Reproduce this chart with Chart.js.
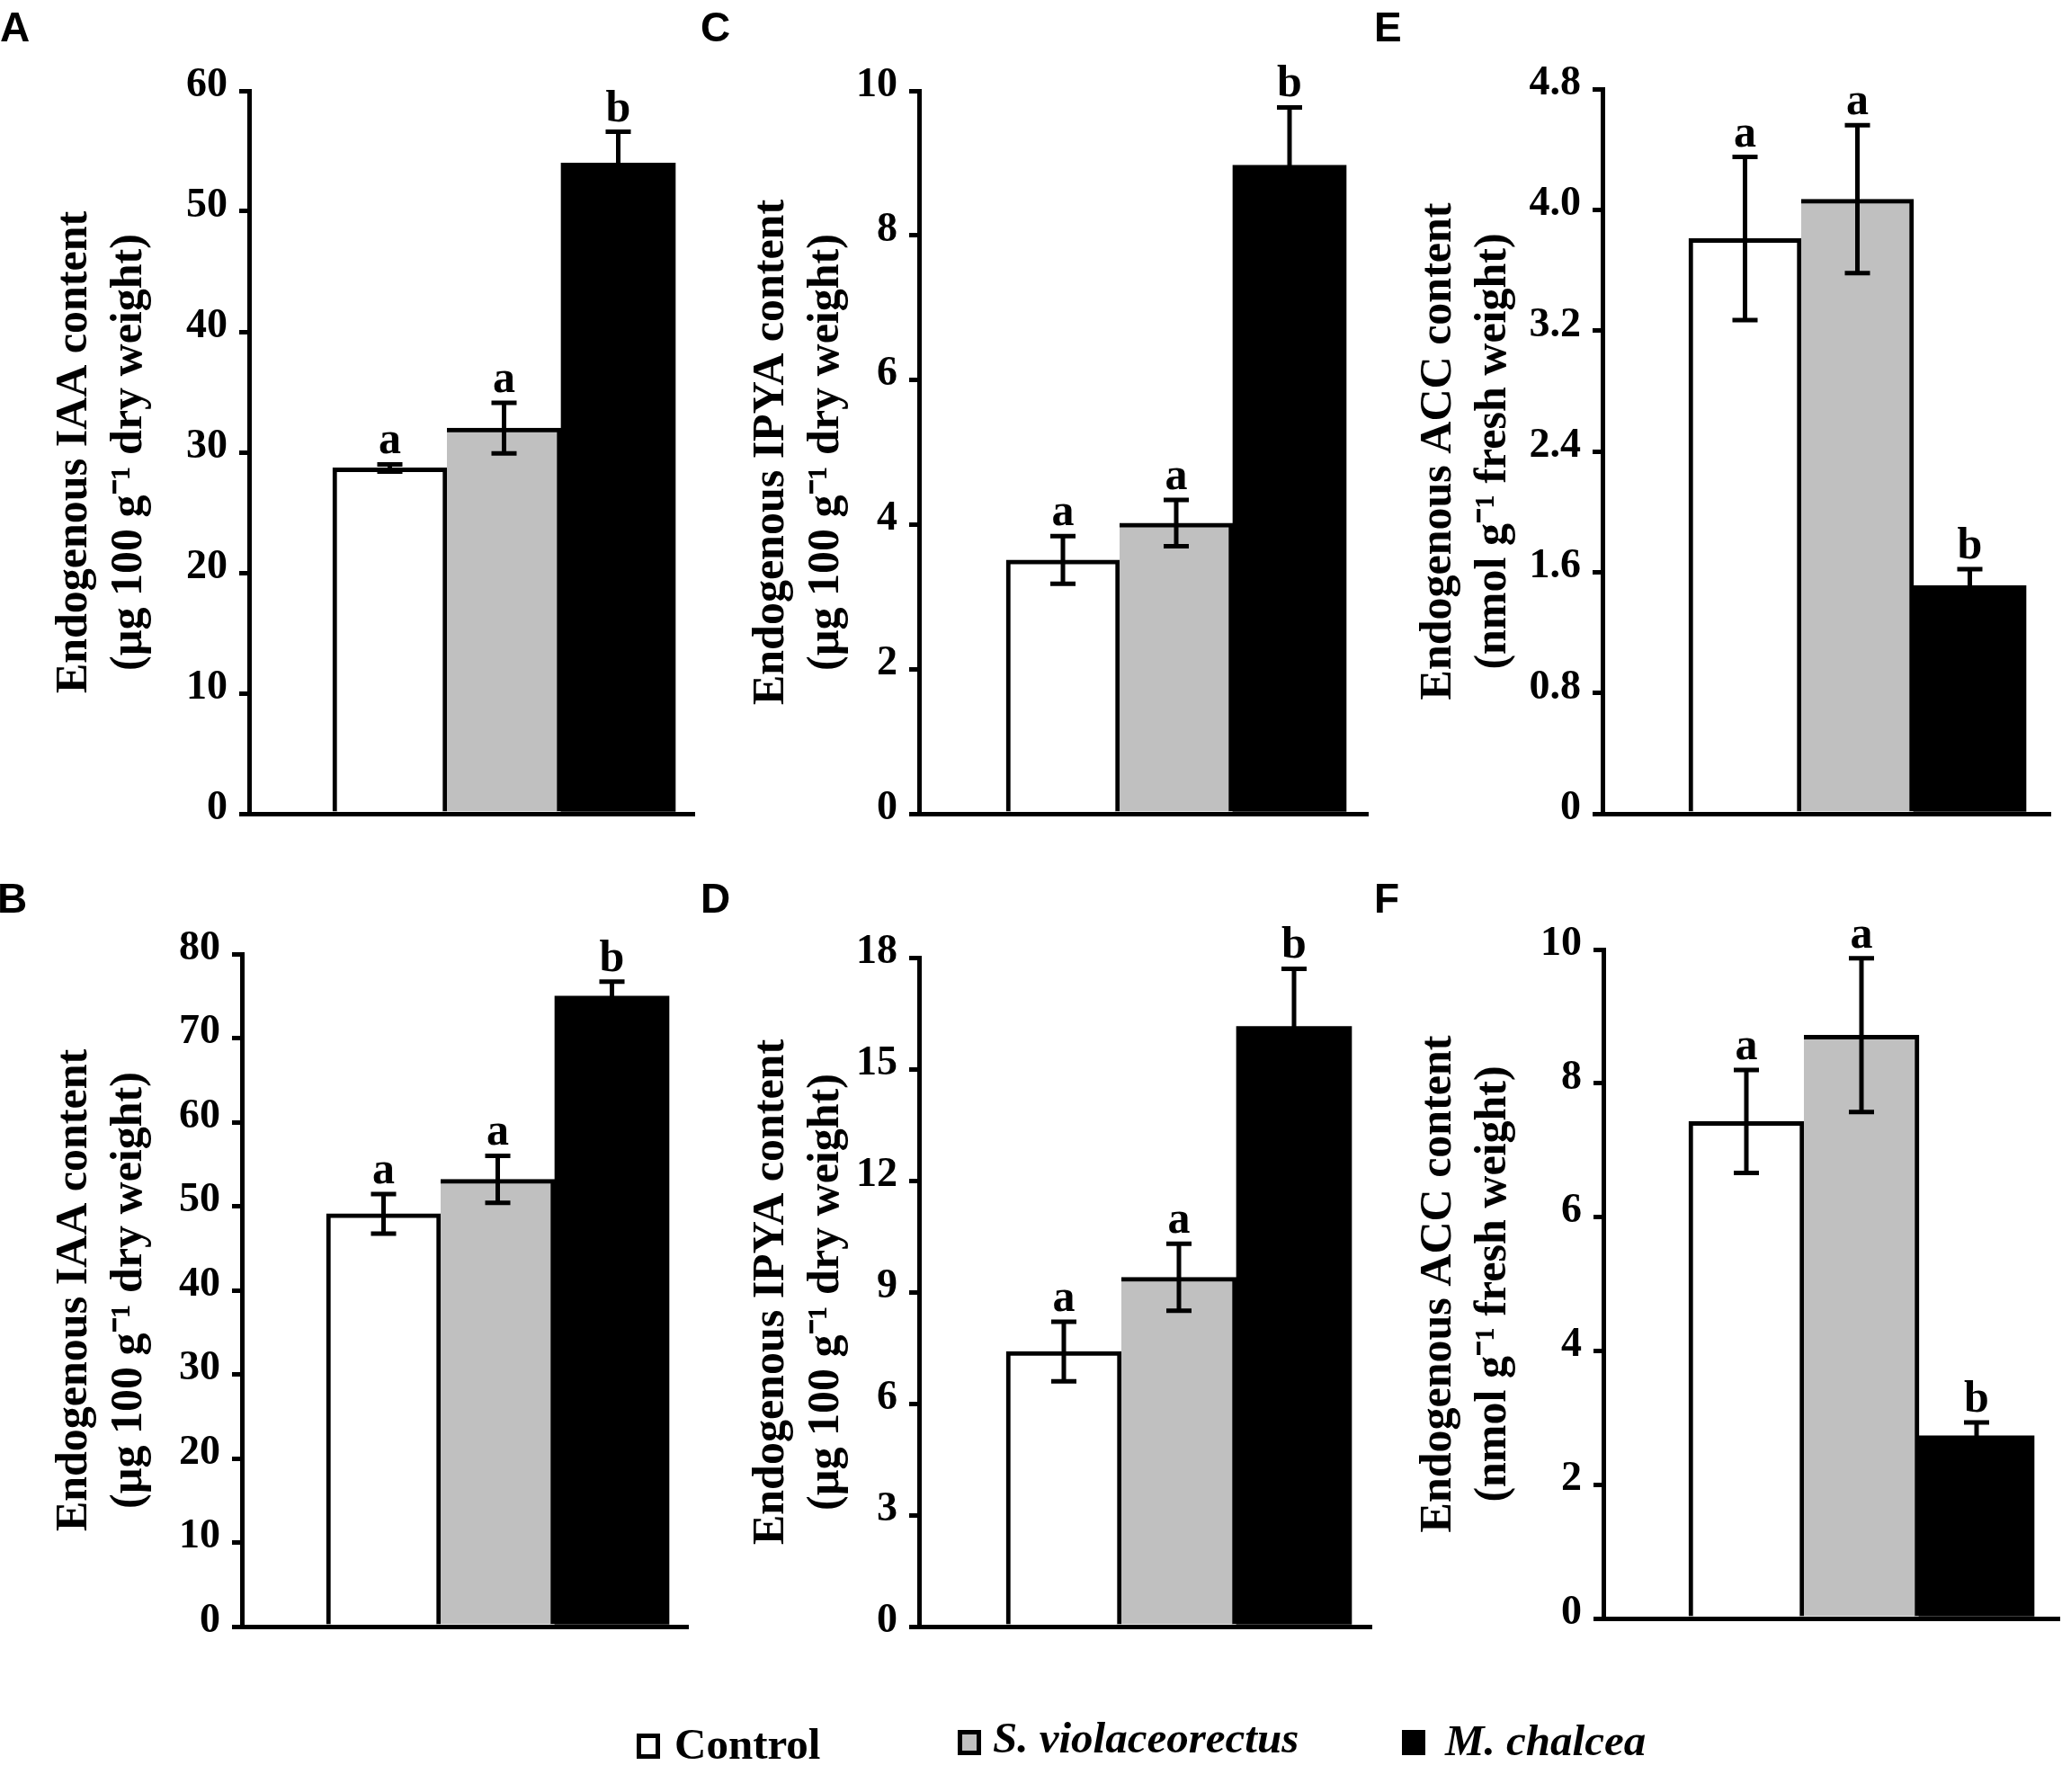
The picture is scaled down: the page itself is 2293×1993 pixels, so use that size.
<!DOCTYPE html>
<html><head><meta charset="utf-8">
<script src="https://cdn.jsdelivr.net/npm/chart.js@4.4.1/dist/chart.umd.min.js"></script>
<style>
html,body{margin:0;padding:0;background:#fff;overflow:hidden;}
#wrap{position:relative;width:2293px;height:1993px;overflow:hidden;background:#fff;}
canvas{position:absolute;left:0;top:0;}
.pl{position:absolute;font:bold 46px 'Liberation Sans',Arial,sans-serif;line-height:46px;color:#000;white-space:nowrap;}
.lbox{position:absolute;box-sizing:border-box;border:5px solid #000;width:26px;height:28px;}
.ltxt{position:absolute;font:bold 49px 'Liberation Serif','Times New Roman',serif;line-height:49px;color:#000;white-space:nowrap;}
</style></head><body>
<div id="wrap"></div>
<script>
// ---------- data ----------
const categories = ['Control', 'S. violaceorectus', 'M. chalcea'];
const barColors = ['#ffffff', '#c0c0c0', '#000000'];

const valuesA = [28.7, 32.0, 54.0];
const errorsA = [0.3, 2.1, 2.6];
const lettersA = ['a', 'a', 'b'];
const ticksA = ['0', '10', '20', '30', '40', '50', '60'];

const valuesB = [49.1, 53.2, 75.0];
const errorsB = [2.35, 2.8, 1.7];
const lettersB = ['a', 'a', 'b'];
const ticksB = ['0', '10', '20', '30', '40', '50', '60', '70', '80'];

const valuesC = [3.51, 4.02, 8.97];
const errorsC = [0.33, 0.32, 0.8];
const lettersC = ['a', 'a', 'b'];
const ticksC = ['0', '2', '4', '6', '8', '10'];

const valuesD = [7.4, 9.4, 16.15];
const errorsD = [0.8, 0.9, 1.55];
const lettersD = ['a', 'a', 'b'];
const ticksD = ['0', '3', '6', '9', '12', '15', '18'];

const valuesE = [3.81, 4.07, 1.51];
const errorsE = [0.54, 0.49, 0.11];
const lettersE = ['a', 'a', 'b'];
const ticksE = ['0', '0.8', '1.6', '2.4', '3.2', '4.0', '4.8'];

const valuesF = [7.43, 8.72, 2.73];
const errorsF = [0.77, 1.15, 0.2];
const lettersF = ['a', 'a', 'b'];
const ticksF = ['0', '2', '4', '6', '8', '10'];

const titleIAA = ['Endogenous IAA content', '(\u00b5g 100 g\u207b\u00b9 dry weight)'];
const titleIPYA = ['Endogenous IPYA content', '(\u00b5g 100 g\u207b\u00b9 dry weight)'];
const titleACC = ['Endogenous ACC content', '(nmol g\u207b\u00b9 fresh weight)'];

// ---------- layout (pixels) ----------
const W = 2293, H = 1993;
const SERIF = "'Liberation Serif', 'Times New Roman', serif";
const panels = [
  {id:'A', values:valuesA, errors:errorsA, letters:lettersA, ticks:ticksA, title:titleIAA,
   geo:{L:277, R:772, T:101, B:905, barLeft:370, w:127, t1:83, lx:0, ly:7}},
  {id:'C', values:valuesC, errors:errorsC, letters:lettersC, ticks:ticksC, title:titleIPYA,
   geo:{L:1022, R:1521, T:101, B:905, barLeft:1119, w:126, t1:858, lx:779, ly:7}},
  {id:'E', values:valuesE, errors:errorsE, letters:lettersE, ticks:ticksE, title:titleACC,
   geo:{L:1782, R:2280, T:99, B:905, barLeft:1878, w:125, t1:1600, lx:1528, ly:7}},
  {id:'B', values:valuesB, errors:errorsB, letters:lettersB, ticks:ticksB, title:titleIAA,
   geo:{L:269, R:765, T:1061, B:1809, barLeft:363, w:127, t1:83, lx:-3, ly:976}},
  {id:'D', values:valuesD, errors:errorsD, letters:lettersD, ticks:ticksD, title:titleIPYA,
   geo:{L:1022, R:1525, T:1065, B:1809, barLeft:1119, w:128, t1:858, lx:779, ly:976}},
  {id:'F', values:valuesF, errors:errorsF, letters:lettersF, ticks:ticksF, title:titleACC,
   geo:{L:1783, R:2290, T:1056, B:1800, barLeft:1878, w:128, t1:1600, lx:1528, ly:976}}
];
const barBorders = [{top:5, left:5, right:5, bottom:0}, {top:5, left:0, right:5, bottom:0}, 0];

const legendPos = [
  {box:[708, 1928], text:[750, 1915], italic:false},
  {box:[1065, 1924], text:[1104, 1908], italic:true},
  {box:[1559, 1924], text:[1607, 1911], italic:true}
];

// ---------- plugin: error bars + significance letters ----------
const errPlugin = {
  id: 'errLetters',
  afterDatasetsDraw(chart, args, opts) {
    const meta = chart.getDatasetMeta(0);
    const ds = chart.data.datasets[0];
    const ys = chart.scales.y;
    const ctx = chart.ctx;
    ctx.save();
    ctx.strokeStyle = '#000';
    ctx.lineWidth = 5;
    ctx.lineCap = 'butt';
    meta.data.forEach((bar, i) => {
      const v = ds.data[i].y, e = opts.errors[i];
      const x = bar.x;
      const yt = ys.getPixelForValue(v + e), yb = ys.getPixelForValue(v - e);
      ctx.beginPath();
      ctx.moveTo(x, yt); ctx.lineTo(x, yb);
      ctx.moveTo(x - 14, yt); ctx.lineTo(x + 14, yt);
      ctx.moveTo(x - 14, yb); ctx.lineTo(x + 14, yb);
      ctx.stroke();
      ctx.fillStyle = '#000';
      ctx.font = 'bold 50px ' + SERIF;
      ctx.textAlign = 'center';
      ctx.textBaseline = 'alphabetic';
      ctx.fillText(opts.letters[i], x, yt - 12);
    });
    ctx.restore();
  }
};

const wrap = document.getElementById('wrap');

function makeChart(p) {
  const g = p.geo;
  const cv = document.createElement('canvas');
  cv.width = W; cv.height = H;
  cv.style.width = W + 'px'; cv.style.height = H + 'px';
  wrap.appendChild(cv);
  const xmin = 0.5 - (g.barLeft - g.L) / g.w;
  const xmax = xmin + (g.R - g.L) / g.w;
  const tickVals = p.ticks.map(Number);
  new Chart(cv, {
    type: 'bar',
    data: {
      datasets: [{
        label: p.id,
        data: p.values.map((v, i) => ({x: i + 1, y: v})),
        backgroundColor: barColors,
        borderColor: '#000000',
        borderWidth: barBorders,
        barThickness: g.w
      }]
    },
    options: {
      responsive: false,
      devicePixelRatio: 1,
      animation: false,
      events: [],
      layout: {padding: {left: 0, top: g.T, right: W - g.R, bottom: H - g.B - 10}},
      plugins: {
        legend: {display: false},
        tooltip: {enabled: false},
        errLetters: {errors: p.errors, letters: p.letters}
      },
      scales: {
        x: {
          type: 'linear', min: xmin, max: xmax, offset: false, bounds: 'data', z: 1,
          grid: {display: false},
          ticks: {display: false},
          border: {display: true, color: '#000', width: 5},
          afterFit: (s) => { s.height = 10; }
        },
        y: {
          type: 'linear', min: 0, max: tickVals[tickVals.length - 1], z: 1,
          afterBuildTicks: (s) => { s.ticks = tickVals.map(v => ({value: v})); },
          ticks: {
            callback: (v, i) => p.ticks[i],
            font: {family: SERIF, weight: 'bold', size: 46},
            color: '#000', padding: 13, labelOffset: -6, autoSkip: false
          },
          grid: {drawOnChartArea: false, drawTicks: true, tickLength: 11, color: '#000', lineWidth: 5},
          border: {display: true, color: '#000', width: 5},
          title: {
            display: true, text: p.title, color: '#000',
            font: {family: SERIF, weight: 'bold', size: 50, lineHeight: 1.22},
            padding: {top: g.t1 - 30.5, bottom: 0}
          },
          afterFit: (s) => { s.width = g.L; }
        }
      }
    },
    plugins: [errPlugin]
  });
  const lab = document.createElement('div');
  lab.className = 'pl';
  lab.style.left = g.lx + 'px';
  lab.style.top = g.ly + 'px';
  lab.textContent = p.id;
  wrap.appendChild(lab);
}

panels.forEach(makeChart);

// ---------- legend ----------
categories.forEach((c, i) => {
  const lp = legendPos[i];
  const b = document.createElement('div');
  b.className = 'lbox';
  b.style.left = lp.box[0] + 'px';
  b.style.top = lp.box[1] + 'px';
  b.style.background = barColors[i];
  wrap.appendChild(b);
  const t = document.createElement('div');
  t.className = 'ltxt';
  t.style.left = lp.text[0] + 'px';
  t.style.top = lp.text[1] + 'px';
  if (lp.italic) t.style.fontStyle = 'italic';
  t.textContent = c;
  wrap.appendChild(t);
});
</script>
</body></html>
